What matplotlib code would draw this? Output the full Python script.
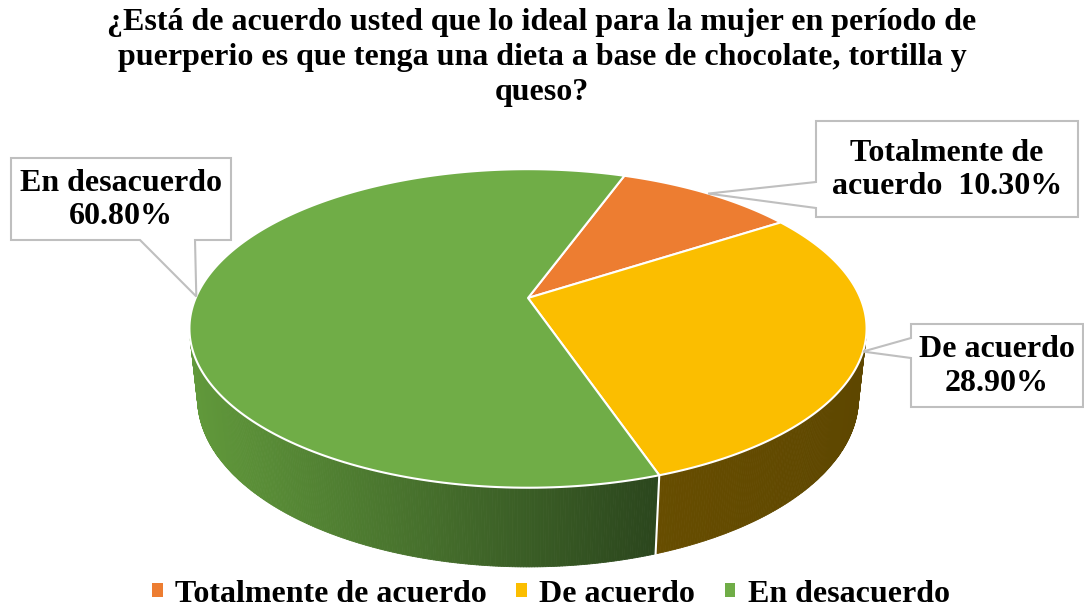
import numpy as np
import matplotlib
matplotlib.use("Agg")
import matplotlib.pyplot as plt
from matplotlib.patches import Polygon, Patch
from matplotlib.collections import PolyCollection
from matplotlib.colors import to_rgb

# data
categories = ["Totalmente de acuerdo", "De acuerdo", "En desacuerdo"]
percentages = [10.30, 28.90, 60.80]
label_fmt = ["Totalmente de\nacuerdo  {:.2f}%", "De acuerdo\n{:.2f}%", "En desacuerdo\n{:.2f}%"]
top_colors = ["#ED7D31", "#FBBE00", "#70AD47"]
side_light = ["#9a4f1c", "#674d00", "#61993b"]
side_dark = ["#7a3e15", "#5e4700", "#2b461d"]
title = ("¿Está de acuerdo usted que lo ideal para la mujer en período de\n"
         "puerperio es que tenga una dieta a base de chocolate, tortilla y\n"
         "queso?")

# label boxes (pixel coords): x0, y0, x1, y1, wedge side
boxes = [
    (816, 121, 1078, 217, "left", 182, 208),
    (911, 324, 1083, 407, "left", 338, 358),
    (11, 158, 231, 240, "bottom", 140, 195),
]

plt.rcParams["font.family"] = ["Liberation Serif", "DejaVu Serif"]
plt.rcParams["font.weight"] = "bold"

W, H = 1084, 609
fig = plt.figure(figsize=(W / 100, H / 100), dpi=100)
ax = fig.add_axes([0, 0, 1, 1])
ax.set_xlim(0, W)
ax.set_ylim(H, 0)
ax.axis("off")

# simple perspective camera for the 3D pie
cx, cy = 528.0, 298.0
elev = np.radians(27.5)
dist = 4.64
focal = 1542.0
depth_h = 0.239
start_angle = 70.0


def project(t_deg, z=0.0):
    t = np.radians(t_deg)
    X, Y = np.cos(t), np.sin(t)
    d = dist + Y * np.cos(elev) - z * np.sin(elev)
    sx = cx + focal * X / d
    sy = cy - focal * (Y * np.sin(elev) + z * np.cos(elev)) / d
    return sx, sy


bounds = start_angle - np.concatenate([[0], np.cumsum(percentages)]) * 3.6

# visible side: where the wall faces the camera
y_lim = -1.0 / (dist * np.cos(elev))
vis_lo = -180 + np.degrees(np.arcsin(-y_lim))
vis_hi = -np.degrees(np.arcsin(-y_lim))

polys, cols = [], []
for i in range(len(percentages)):
    t_hi, t_lo = bounds[i], bounds[i + 1]
    for shift in (0, -360, 360):
        a, b = max(t_lo + shift, vis_lo), min(t_hi + shift, vis_hi)
        if b <= a:
            continue
        ts = np.linspace(a, b, int((b - a) / 0.4) + 2)
        x_a = project(a)[0]
        x_b = project(b)[0]
        c0, c1 = np.array(to_rgb(side_light[i])), np.array(to_rgb(side_dark[i]))
        for k in range(len(ts) - 1):
            p1 = project(ts[k]); p2 = project(ts[k + 1])
            p3 = project(ts[k + 1], -depth_h); p4 = project(ts[k], -depth_h)
            polys.append([p1, p2, p3, p4])
            frac = (0.5 * (p1[0] + p2[0]) - x_a) / max(x_b - x_a, 1)
            cols.append(c0 + (c1 - c0) * np.clip(frac, 0, 1))
side = PolyCollection(polys, facecolors=cols, edgecolors=cols, linewidths=0.6)
ax.add_collection(side)

# seams on the wall between slices
for bnd in bounds:
    for shift in (0, -360):
        tb = bnd + shift
        if vis_lo < tb < vis_hi:
            p_top, p_bot = project(tb), project(tb, -depth_h)
            ax.plot([p_top[0], p_bot[0]], [p_top[1], p_bot[1]], color="white", lw=1.5)

# top face
for i in range(len(percentages)):
    ts = np.linspace(bounds[i], bounds[i + 1], 200)
    pts = [(cx, cy)] + [project(t) for t in ts]
    ax.add_patch(Polygon(pts, closed=True, facecolor=top_colors[i],
                         edgecolor="white", lw=1.5, joinstyle="round"))

# callout labels
for i in range(len(percentages)):
    mid = 0.5 * (bounds[i] + bounds[i + 1])
    tip = project(mid)
    x0, y0, x1, y1, side_w, w0, w1 = boxes[i]
    if side_w == "left":
        outline = [(x0, y0), (x1, y0), (x1, y1), (x0, y1), (x0, w1), tip, (x0, w0)]
    else:
        outline = [(x0, y0), (x1, y0), (x1, y1), (w1, y1), tip, (w0, y1), (x0, y1)]
    ax.add_patch(Polygon(outline, closed=True, facecolor="white",
                         edgecolor="#bfbfbf", lw=1.5, zorder=5))
    ax.text((x0 + x1) / 2, (y0 + y1) / 2 + 1, label_fmt[i].format(percentages[i]),
            ha="center", va="center", fontsize=23, fontweight="bold",
            linespacing=1.22, zorder=6)

ax.text(542, 8, title, ha="center", va="top", fontsize=23,
        fontweight="bold", linespacing=1.27)

handles = [Patch(facecolor=c, edgecolor="none") for c in top_colors]
ax.legend(handles, categories, loc="center", bbox_to_anchor=(551 / W, 15 / H),
          ncol=3, frameon=False, handlelength=0.32, handleheight=0.32,
          handletextpad=0.4, columnspacing=0.92, borderpad=0,
          prop={"family": ["Liberation Serif"], "weight": "bold", "size": 23})

fig.savefig("out.png", dpi=100)
